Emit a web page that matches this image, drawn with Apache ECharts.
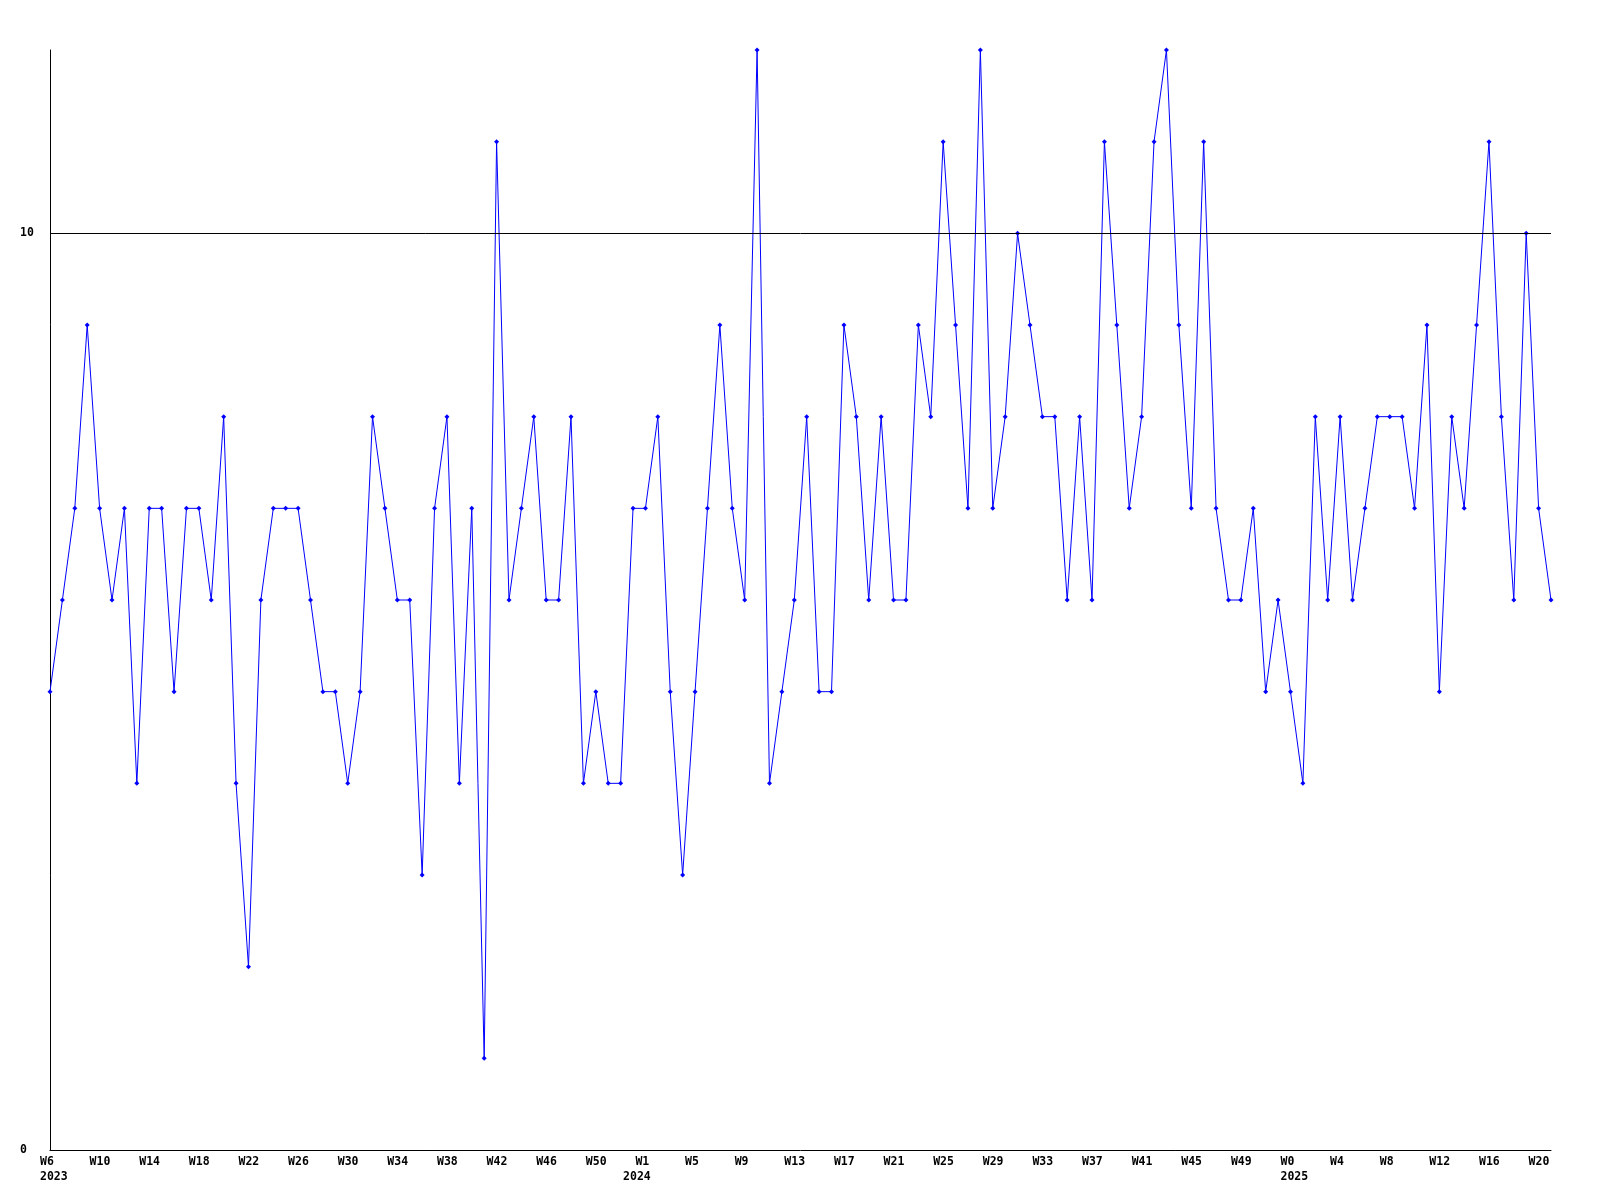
<!DOCTYPE html>
<html>
<head>
<meta charset="utf-8">
<script src="https://cdn.jsdelivr.net/npm/echarts@6/dist/echarts.min.js"></script>
<style>
html,body{margin:0;padding:0;background:#fff;}
#chart{width:1600px;height:1200px;}
</style>
</head>
<body>
<div id="chart"></div>
<script>
// Week categories (one point per week)
const weeks = [
  'W6','W7','W8','W9','W10','W11','W12','W13','W14','W15','W16','W17','W18','W19','W20','W21','W22','W23','W24','W25',
  'W26','W27','W28','W29','W30','W31','W32','W33','W34','W35','W36','W37','W38','W39','W40','W41','W42','W43','W44','W45',
  'W46','W47','W48','W49','W50','W51','W52','W53',
  'W1','W2','W3','W4','W5','W6','W7','W8','W9','W10','W11','W12','W13','W14','W15','W16','W17','W18','W19','W20',
  'W21','W22','W23','W24','W25','W26','W27','W28','W29','W30','W31','W32','W33','W34','W35','W36','W37','W38','W39','W40',
  'W41','W42','W43','W44','W45','W46','W47','W48','W49','W50','W51','W52',
  'W0','W1','W2','W3','W4','W5','W6','W7','W8','W9','W10','W11','W12','W13','W14','W15','W16','W17','W18','W19','W20','W21'
];
// Year labels placed at the week where each year starts (by category index)
const yearIndex = [0, 47, 100];
const yearNames = ['2023', '2024', '2025'];

// Weekly values
const values = [
  5,6,7,9,7,6,7,4,7,7,5,7,7,6,8,4,2,6,7,7,
  7,6,5,5,4,5,8,7,6,6,3,7,8,4,7,1,11,6,7,8,
  6,6,8,4,5,4,4,7,7,8,5,3,5,7,9,7,6,12,4,5,
  6,8,5,5,9,8,6,8,6,6,9,8,11,9,7,12,7,8,10,9,
  8,8,6,8,6,11,9,7,8,11,12,9,7,11,7,6,6,7,5,6,
  5,4,8,6,8,6,7,8,8,8,7,9,5,8,7,9,11,8,6,10,
  7,6
];

const yTicks = [0, 10];
const refLine = 10;
const labelEvery = 4;

const font = 'DejaVu Sans Mono, Liberation Mono, monospace';

const chart = echarts.init(document.getElementById('chart'), null, {renderer: 'canvas'});
chart.setOption({
  backgroundColor: '#ffffff',
  animation: false,
  grid: {left: 50, right: 49, top: 50, bottom: 50, containLabel: false},
  xAxis: {
    type: 'category',
    data: weeks,
    boundaryGap: false,
    axisLine: {show: true, lineStyle: {color: '#000', width: 1}},
    axisTick: {show: false},
    splitLine: {show: false},
    axisLabel: {
      interval: function (index) {
        return index % labelEvery === 0 || yearIndex.indexOf(index) >= 0;
      },
      hideOverlap: false,
      margin: 5,
      align: 'center',
      color: '#000',
      fontFamily: font,
      fontWeight: 'bold',
      fontSize: 11.5,
      lineHeight: 15,
      formatter: function (value, index) {
        const yi = yearIndex.indexOf(index);
        let s = index % labelEvery === 0 ? '{a|' + value + '}' : '{a| }';
        if (yi >= 0) s += '\n{a|' + yearNames[yi] + '}';
        return s;
      },
      rich: {
        a: {width: 20, align: 'left', color: '#000', fontFamily: font, fontWeight: 'bold', fontSize: 11.5, lineHeight: 15}
      }
    }
  },
  yAxis: {
    type: 'value',
    min: 0,
    max: 12,
    interval: 10,
    axisLine: {show: true, lineStyle: {color: '#000', width: 1}},
    axisTick: {show: false},
    splitLine: {show: false},
    axisLabel: {
      margin: 30,
      align: 'left',
      color: '#000',
      fontFamily: font,
      fontWeight: 'bold',
      fontSize: 11.5,
      showMaxLabel: false,
      formatter: function (v) { return yTicks.indexOf(v) >= 0 ? String(v) : ''; }
    }
  },
  series: [
    {
      type: 'line',
      data: [],
      z: 1,
      silent: true,
      markLine: {
        silent: true,
        symbol: ['none', 'none'],
        label: {show: false},
        lineStyle: {color: '#000', width: 1, type: 'solid'},
        emphasis: {disabled: true},
        data: [{yAxis: refLine}]
      }
    },
    {
      type: 'line',
      data: values,
      z: 3,
      symbol: 'diamond',
      symbolSize: 5,
      showAllSymbol: true,
      lineStyle: {color: '#0000ff', width: 1},
      itemStyle: {color: '#0000ff'},
      emphasis: {disabled: true}
    }
  ]
});
</script>
</body>
</html>
